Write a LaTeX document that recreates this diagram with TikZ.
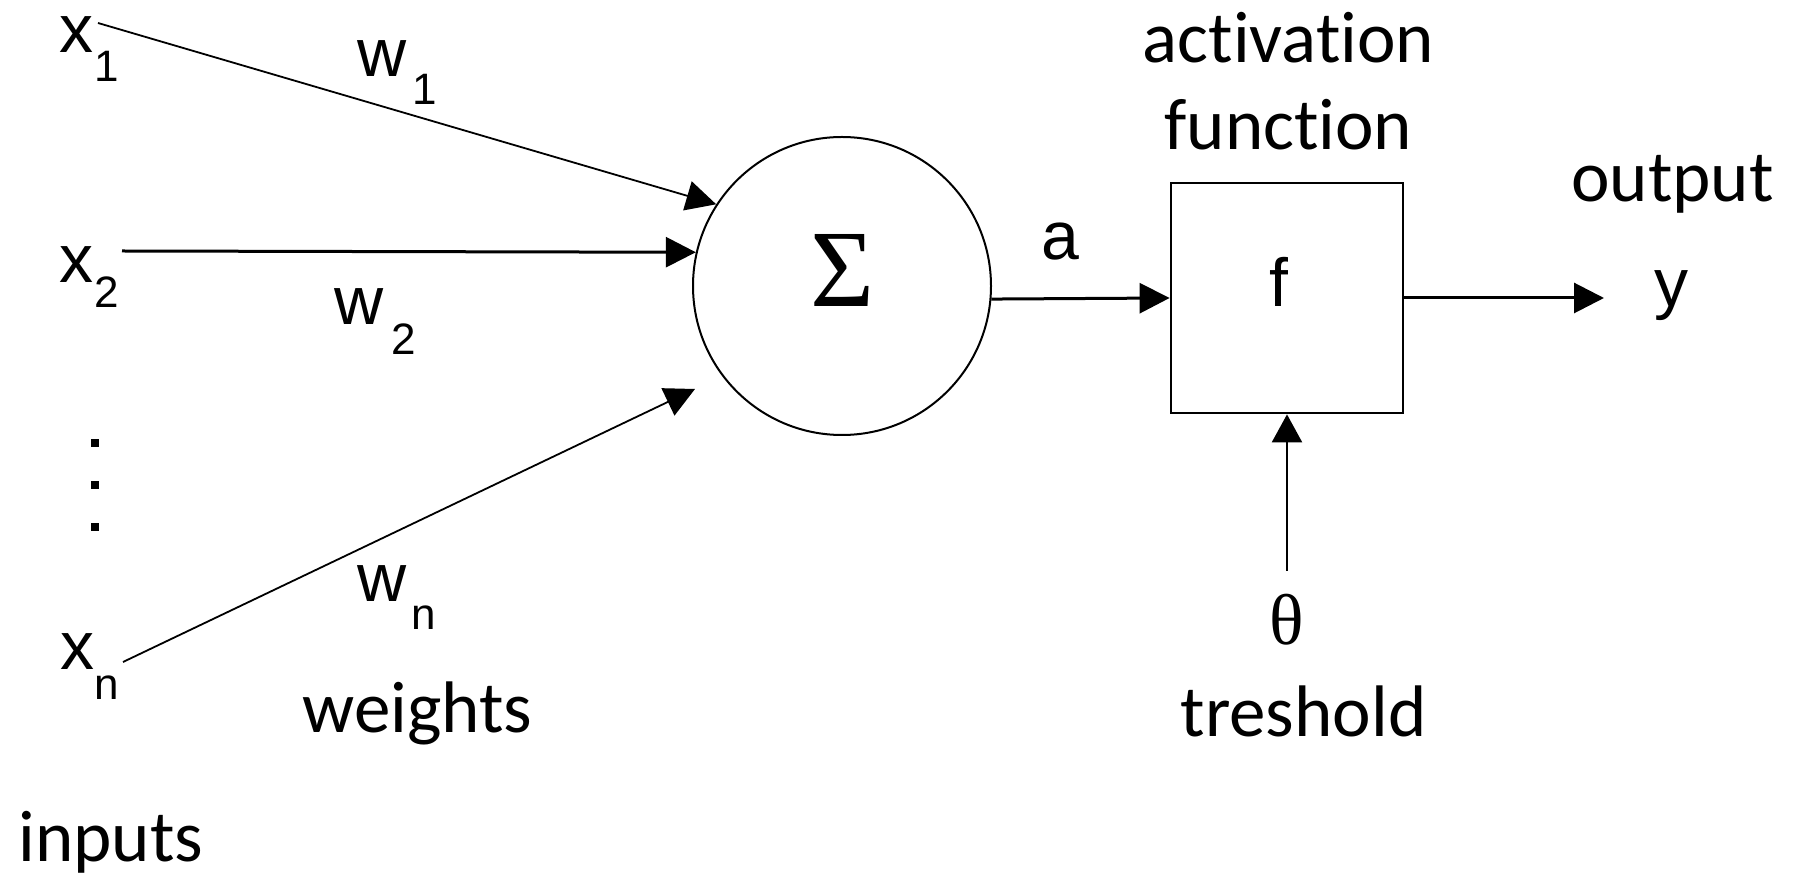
\documentclass[tikz,border=0pt]{standalone}
\usepackage{fontspec}
\usetikzlibrary{arrows.meta}
\newfontfamily\labelfont[Ligatures=NoCommon]{Carlito}
\newfontfamily\symfont{Liberation Sans}
\newfontfamily\greekfont{Liberation Serif}
\begin{document}
\begin{tikzpicture}[x=0.5pt,y=-0.5pt,
  big/.style={font=\labelfont\fontsize{36.5pt}{40pt}\selectfont, inner sep=0, anchor=base},
  sym/.style={font=\symfont\fontsize{34pt}{38pt}\selectfont, inner sep=0, anchor=base},
  sub/.style={font=\symfont\fontsize{22pt}{26pt}\selectfont, inner sep=0, anchor=base},
  greek/.style={font=\greekfont\fontsize{#1}{#1}\selectfont, inner sep=0, anchor=base},
  tip/.style={-{Triangle[length=15pt,width=15pt]}},
  thinline/.style={line width=0.9pt},
  thickline/.style={line width=1.5pt}]
\useasboundingbox (0,0) rectangle (1796,881);

% summation unit and activation box
\node[circle, draw, line width=1pt, minimum size=149pt, inner sep=0] (sum) at (842,286) {};
\node[greek=55pt] (sigma) at (843,307) {Σ};
\node[draw, line width=1.4pt, minimum width=116pt, minimum height=115pt, inner sep=0] (fbox) at (1287,298) {};
\node[sym] (fsym) at (1279,307) {f};

% inputs
\node[sym] (x1) at (77,53) {x};
\node[sub] (x1s) at (107,82) {1};
\node[sym] (x2) at (77,283) {x};
\node[sub] (x2s) at (106.5,308) {2};
\node[sym] (xn) at (77.5,670) {x};
\node[sub] (xns) at (106.5,700) {n};
\foreach \yy in {443,485,527} \fill (91,\yy-4) rectangle +(8,8);

% weights
\node[sym] (w1) at (382.5,77) {w};
\node[sub] (w1s) at (425,105) {1};
\node[sym] (w2) at (359,325) {w};
\node[sub] (w2s) at (404,355) {2};
\node[sym] (wn) at (382.5,602) {w};
\node[sub] (wns) at (424,630) {n};

% connector ends
\coordinate (x1o) at (98,23);
\coordinate (x2o) at (122,251);
\coordinate (xno) at (123,662);
\coordinate (xnTip) at (695,389);
\coordinate (yTip) at (1604,298);
\coordinate (thTop) at (1287,571);

\draw[thinline, tip] (x1o) -- (sum.147.5);
\draw[thickline, tip] (x2o) -- (sum.167);
\draw[thinline, tip] (xno) -- (xnTip);
\draw[thickline, tip] (sum.-5) -- (fbox.west);
\draw[thickline, tip] (fbox.east) -- (yTip);
\draw[line width=1.2pt, -{Triangle[length=14pt,width=15pt]}] (thTop) -- (fbox.south);

% labels
\node[sym] (alabel) at (1060,260) {a};
\node[sym] (yout) at (1671,307) {y};
\node[greek=36pt] (theta) at (1286.5,645) {θ};

\node[big] (act) at (1288.5,63) {activation};
\node[big] (fun) at (1288.5,150) {function};
\node[big] (outl) at (1672.5,202) {output};
\node[big] (thr) at (1303.5,737) {treshold};
\node[big] (wts) at (417.5,733) {weights};
\node[big] (inp) at (111,862) {inputs};
\end{tikzpicture}
\end{document}
